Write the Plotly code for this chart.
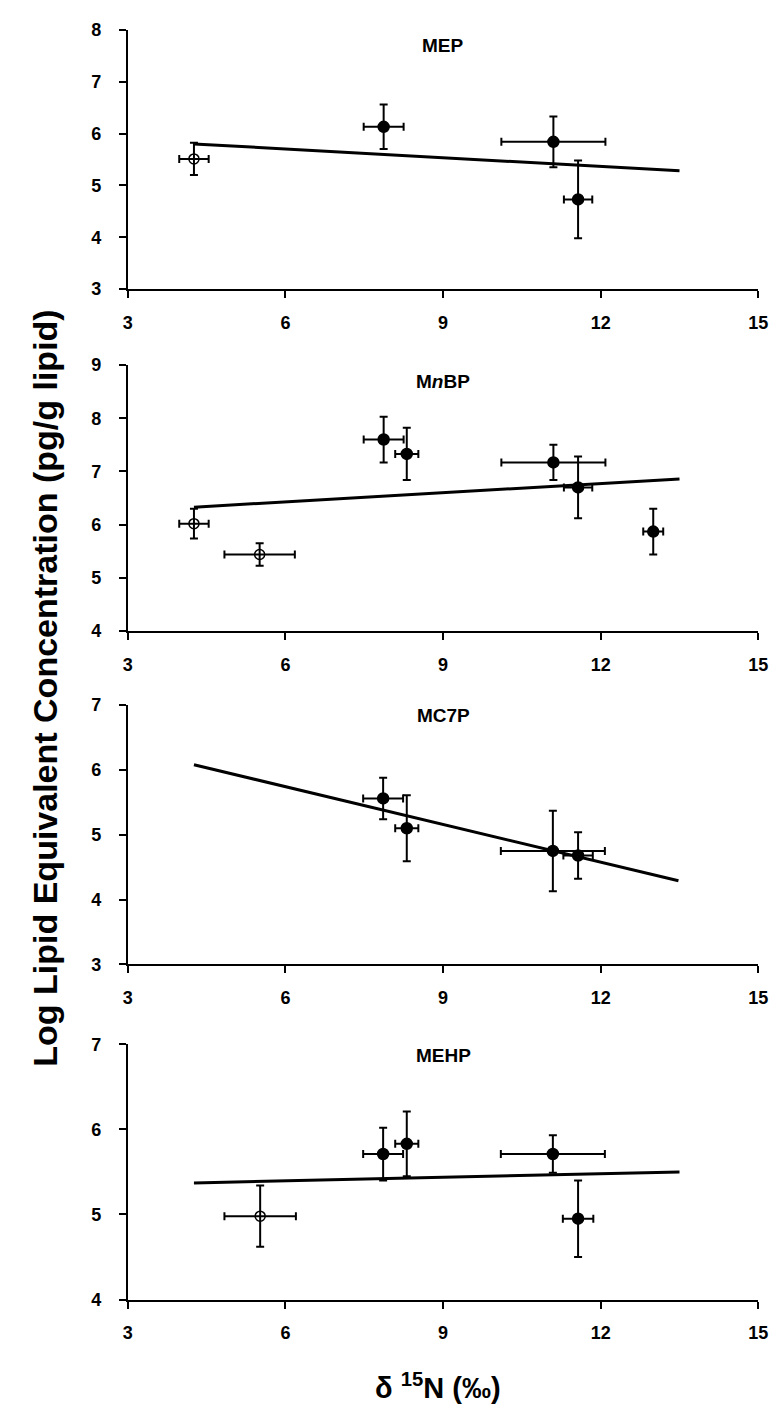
import plotly.graph_objects as go

W, H = 777, 1409

# ---------------- data ----------------
panel_names = ["MEP", "M<i>n</i>BP", "MC7P", "MEHP"]
y_ranges = [[3, 8], [4, 9], [3, 7], [4, 7]]
x_ticks = [3, 6, 9, 12, 15]

mep_x = [4.26, 7.87, 11.10, 11.57]
mep_y = [5.51, 6.13, 5.84, 4.73]
mep_xerr = [0.28, 0.38, 0.99, 0.27]
mep_yerr = [0.31, 0.43, 0.49, 0.75]
mep_open = [True, False, False, False]
mep_trend_x = [4.26, 13.5]
mep_trend_y = [5.80, 5.28]

mnbp_x = [4.26, 5.51, 7.87, 8.31, 11.10, 11.57, 13.0]
mnbp_y = [6.02, 5.44, 7.60, 7.33, 7.17, 6.70, 5.87]
mnbp_xerr = [0.28, 0.67, 0.38, 0.22, 0.99, 0.27, 0.19]
mnbp_yerr = [0.28, 0.21, 0.43, 0.49, 0.33, 0.58, 0.43]
mnbp_open = [True, True, False, False, False, False, False]
mnbp_trend_x = [4.26, 13.5]
mnbp_trend_y = [6.33, 6.86]

mc7p_x = [7.86, 8.31, 11.09, 11.57]
mc7p_y = [5.56, 5.10, 4.75, 4.68]
mc7p_xerr = [0.38, 0.22, 0.99, 0.28]
mc7p_yerr = [0.32, 0.51, 0.62, 0.36]
mc7p_open = [False, False, False, False]
mc7p_trend_x = [4.26, 13.48]
mc7p_trend_y = [6.08, 4.29]

mehp_x = [5.52, 7.86, 8.31, 11.09, 11.57]
mehp_y = [4.98, 5.71, 5.83, 5.71, 4.95]
mehp_xerr = [0.68, 0.38, 0.22, 0.99, 0.29]
mehp_yerr = [0.36, 0.31, 0.38, 0.22, 0.45]
mehp_open = [True, False, False, False, False]
mehp_trend_x = [4.26, 13.5]
mehp_trend_y = [5.37, 5.50]

panels = [
    (mep_x, mep_y, mep_xerr, mep_yerr, mep_open, mep_trend_x, mep_trend_y),
    (mnbp_x, mnbp_y, mnbp_xerr, mnbp_yerr, mnbp_open, mnbp_trend_x, mnbp_trend_y),
    (mc7p_x, mc7p_y, mc7p_xerr, mc7p_yerr, mc7p_open, mc7p_trend_x, mc7p_trend_y),
    (mehp_x, mehp_y, mehp_xerr, mehp_yerr, mehp_open, mehp_trend_x, mehp_trend_y),
]

# ---------------- layout geometry (pixels) ----------------
plot_left, plot_right = 117, 760
panel_px = [(12, 275), (352, 622), (697, 960), (1041, 1300)]
title_offset_px = [16, 17, 11, 11]

FONT = "Liberation Sans, Arial, sans-serif"

fig = go.Figure()

for i, (xs, ys, xe, ye, op, tx, ty) in enumerate(panels):
    ax = "" if i == 0 else str(i + 1)
    xref, yref = "x" + ax, "y" + ax
    # trend line
    fig.add_trace(go.Scatter(x=tx, y=ty, mode="lines", xaxis=xref, yaxis=yref,
                             line=dict(color="black", width=3), showlegend=False,
                             hoverinfo="skip"))
    for is_open in (True, False):
        idx = [k for k in range(len(xs)) if op[k] == is_open]
        if not idx:
            continue
        fig.add_trace(go.Scatter(
            x=[xs[k] for k in idx], y=[ys[k] for k in idx],
            mode="markers", xaxis=xref, yaxis=yref, showlegend=False,
            error_x=dict(type="data", array=[xe[k] for k in idx], color="black",
                         thickness=2, width=4),
            error_y=dict(type="data", array=[ye[k] for k in idx], color="black",
                         thickness=2, width=4),
            marker=dict(symbol="circle-open" if is_open else "circle",
                        size=10 if is_open else 11, color="black",
                        line=dict(color="black", width=1.5)),
        ))

layout = dict(
    width=W, height=H, paper_bgcolor="white", plot_bgcolor="white",
    margin=dict(l=0, r=0, t=0, b=0), showlegend=False,
    font=dict(family=FONT, color="black"),
)
annotations = []
for i in range(4):
    top, bot = panel_px[i]
    key = "" if i == 0 else str(i + 1)
    layout["xaxis" + key] = dict(
        domain=[plot_left / W, plot_right / W], range=[3, 15], tickvals=x_ticks,
        showline=True, linecolor="black", linewidth=2, ticks="outside", ticklen=7,
        tickwidth=1.5, tickcolor="black", showgrid=False, zeroline=False,
        anchor="y" + key, ticklabelstandoff=9,
        tickfont=dict(family=FONT, size=18, color="black", weight="bold"),
    )
    yr = y_ranges[i]
    layout["yaxis" + key] = dict(
        domain=[1 - bot / H, 1 - top / H], range=yr,
        tickvals=list(range(yr[0], yr[1] + 1)),
        showline=True, linecolor="black", linewidth=2, ticks="outside", ticklen=7,
        tickwidth=1.5, tickcolor="black", showgrid=False, zeroline=False,
        anchor="x" + key, ticklabelstandoff=14,
        tickfont=dict(family=FONT, size=18, color="black", weight="bold"),
    )
    annotations.append(dict(
        text="<b>" + panel_names[i] + "</b>", xref="paper", yref="paper",
        x=(plot_left + 0.5 * (plot_right - plot_left)) / W,
        y=1 - (top + title_offset_px[i]) / H, xanchor="center", yanchor="middle",
        showarrow=False, font=dict(family=FONT, size=19, color="black"),
    ))

annotations.append(dict(
    text="<b>Log Lipid Equivalent Concentration (pg/g lipid)</b>",
    xref="paper", yref="paper", x=33 / W, y=1 - 680 / H, textangle=-90,
    xanchor="center", yanchor="middle", showarrow=False,
    font=dict(family=FONT, size=34, color="black"),
))
annotations.append(dict(
    text="<b>δ <sup>15</sup>N (‰)</b>",
    xref="paper", yref="paper", x=433 / W, y=1 - 1388 / H,
    xanchor="center", yanchor="middle", showarrow=False,
    font=dict(family=FONT, size=29, color="black"),
))
layout["annotations"] = annotations
fig.update_layout(**layout)

fig.write_html("out.html")
